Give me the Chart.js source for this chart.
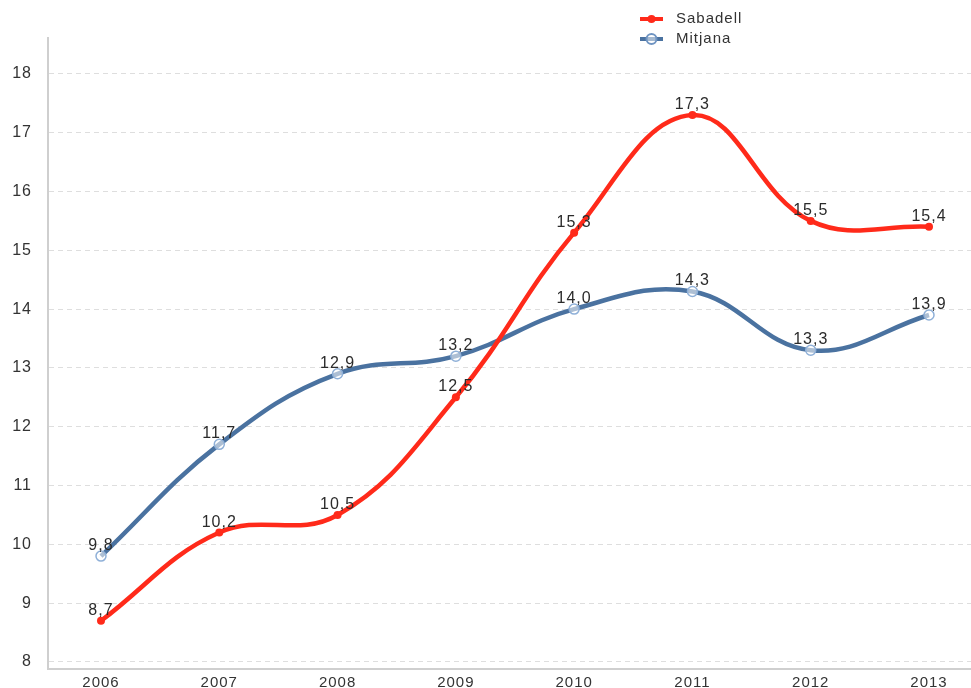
<!DOCTYPE html>
<html>
<head>
<meta charset="utf-8">
<script src="https://cdn.jsdelivr.net/npm/chart.js@4"></script>
<style>
  html, body { margin: 0; padding: 0; background: #fff; }
  #wrap { width: 971px; height: 688px; position: relative; }
</style>
</head>
<body>
<div id="wrap"><canvas id="lineChart"></canvas></div>
<script>
var years = [2006, 2007, 2008, 2009, 2010, 2011, 2012, 2013];
var sabadell = [8.7, 10.2, 10.5, 12.5, 15.3, 17.3, 15.5, 15.4];
var mitjana = [9.8, 11.7, 12.9, 13.2, 14.0, 14.3, 13.3, 13.9];
var yTicks = [8, 9, 10, 11, 12, 13, 14, 15, 16, 17, 18];

var red = '#ff2a1a';
var blue = '#4a72a0';
var font = '"Liberation Sans", Arial, sans-serif';

function pts(values) {
    return values.map(function(v, i) { return { x: years[i], y: v }; });
}

// the original text is a little wider than Arial, so add some spacing
var spacing = {
    id: 'spacing',
    beforeDraw: function(chart) {
        chart.ctx.letterSpacing = '1px';
    }
};

// value labels above each point, decimal comma
var valueLabels = {
    id: 'valueLabels',
    afterDatasetsDraw: function(chart) {
        var ctx = chart.ctx;
        ctx.save();
        ctx.font = '16px ' + font;
        ctx.fillStyle = '#2b2b2b';
        ctx.textAlign = 'center';
        ctx.textBaseline = 'alphabetic';
        chart.data.datasets.forEach(function(ds, di) {
            chart.getDatasetMeta(di).data.forEach(function(el, i) {
                var txt = ds.data[i].y.toFixed(1).replace('.', ',');
                ctx.fillText(txt, el.x, el.y - 6);
            });
        });
        ctx.restore();
    }
};

// small legend at the top
var topLegend = {
    id: 'topLegend',
    afterDraw: function(chart) {
        var ctx = chart.ctx;
        var items = [
            { label: 'Sabadell', color: red, y: 19, hollow: false },
            { label: 'Mitjana', color: blue, y: 39, hollow: true }
        ];
        ctx.save();
        items.forEach(function(it) {
            ctx.strokeStyle = it.color;
            ctx.lineWidth = 4;
            ctx.beginPath();
            ctx.moveTo(640, it.y);
            ctx.lineTo(663, it.y);
            ctx.stroke();
            ctx.beginPath();
            ctx.arc(651.5, it.y, it.hollow ? 5 : 4, 0, Math.PI * 2);
            if (it.hollow) {
                ctx.fillStyle = 'rgba(255,255,255,0.5)';
                ctx.fill();
                ctx.lineWidth = 2;
                ctx.strokeStyle = '#6f94c2';
                ctx.stroke();
            } else {
                ctx.fillStyle = it.color;
                ctx.fill();
            }
            ctx.font = '15px ' + font;
            ctx.fillStyle = '#333';
            ctx.textAlign = 'left';
            ctx.textBaseline = 'middle';
            ctx.fillText(it.label, 676, it.y);
        });
        ctx.restore();
    }
};

var ctx1 = document.getElementById('lineChart').getContext('2d');
var lineChart = new Chart(ctx1, {
    type: 'line',
    data: {
        datasets: [{
            label: 'Sabadell',
            data: pts(sabadell),
            borderColor: red,
            backgroundColor: red,
            borderWidth: 4.5,
            pointRadius: 4,
            pointBorderWidth: 0,
            pointBackgroundColor: red,
            tension: 0.4
        }, {
            label: 'Mitjana',
            data: pts(mitjana),
            borderColor: blue,
            backgroundColor: blue,
            borderWidth: 4.5,
            pointRadius: 5,
            pointBorderWidth: 1.5,
            pointBorderColor: '#8fb0d8',
            pointBackgroundColor: 'rgba(255,255,255,0.55)',
            tension: 0.4
        }]
    },
    options: {
        responsive: true,
        maintainAspectRatio: false,
        animation: false,
        layout: { autoPadding: false, padding: { top: 38, right: 0, left: 0, bottom: 0 } },
        plugins: {
            legend: { display: false },
            tooltip: { enabled: false }
        },
        scales: {
            x: {
                type: 'linear',
                min: 2005.552,
                max: 2013.355,
                afterBuildTicks: function(axis) {
                    axis.ticks = years.map(function(v) { return { value: v }; });
                },
                afterFit: function(axis) {
                    axis.height = 19;
                    axis.paddingLeft = 0;
                    axis.paddingRight = 0;
                },
                grid: { display: false, drawTicks: false },
                border: { color: '#cfcfcf', width: 2 },
                ticks: {
                    color: '#333',
                    font: { family: font, size: 15 },
                    padding: 5,
                    maxRotation: 0,
                    callback: function(v) { return String(v); }
                }
            },
            y: {
                min: 7.88,
                max: 18.61,
                afterBuildTicks: function(axis) {
                    axis.ticks = yTicks.map(function(v) { return { value: v }; });
                },
                afterFit: function(axis) {
                    axis.width = 48;
                    axis.paddingTop = 0;
                    axis.paddingBottom = 0;
                },
                grid: { color: '#dedede', drawTicks: false },
                border: { color: '#cfcfcf', width: 2, dash: [5, 4] },
                ticks: {
                    color: '#333',
                    font: { family: font, size: 16 },
                    padding: 16,
                    callback: function(v) { return String(v); }
                }
            }
        }
    },
    plugins: [spacing, valueLabels, topLegend]
});
</script>
</body>
</html>
